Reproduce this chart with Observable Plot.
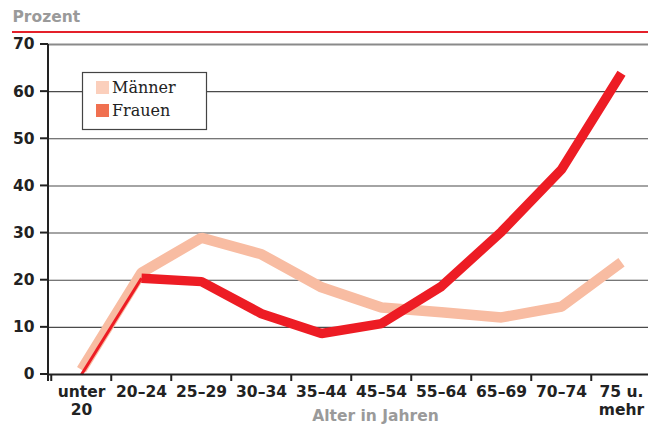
<!DOCTYPE html>
<html>
<head>
<meta charset="utf-8">
<script src="https://cdn.jsdelivr.net/npm/d3@7"></script>
<script src="https://cdn.jsdelivr.net/npm/@observablehq/plot@0.6"></script>
<style>
  html, body { margin: 0; padding: 0; background: #fff; }
  #chart { width: 648px; height: 426px; overflow: hidden; }
</style>
</head>
<body>
<div id="chart"></div>
<script>
const categories = ["unter\n20", "20–24", "25–29", "30–34", "35–44", "45–54", "55–64", "65–69", "70–74", "75 u.\nmehr"];
const maenner = [1, 21.6, 29, 25.5, 18.5, 14.2, 13.2, 12.1, 14.4, 23.8];
const frauen  = [0, 20.4, 19.7, 12.9, 8.7, 10.8, 18.7, 30.3, 43.5, 63.9];
const yTicks = [0, 10, 20, 30, 40, 50, 60, 70];
const seriesNames = ["Männer", "Frauen"];

const mData = categories.map((c, i) => ({cat: c, v: maenner[i]}));
const fData = categories.map((c, i) => ({cat: c, v: frauen[i]}));
const fFirst = fData.slice(0, 2);
const fRest = fData.slice(1);

const font = "'DejaVu Sans', sans-serif";
const step = 605 / categories.length;

const plot = Plot.plot({
  width: 648,
  height: 426,
  marginLeft: 48,
  marginRight: 0,
  marginTop: 44,
  marginBottom: 52,
  style: {fontFamily: font, background: "#fff", overflow: "visible"},
  x: {type: "point", domain: categories, range: [48, 653], padding: 0.5, axis: null},
  y: {domain: [0, 70], range: [374, 44], axis: null},
  marks: [
    Plot.ruleY(yTicks.filter(d => d > 0 && d < 70), {y: d => d, stroke: "#4a4a4a", strokeWidth: 1.1}),
    Plot.ruleY([70], {stroke: "#8a8a8a", strokeWidth: 2}),
    Plot.line(mData, {x: "cat", y: "v", stroke: "#f8bca2", strokeWidth: 10.5, strokeLinejoin: "miter", strokeLinecap: "butt"}),
    Plot.line(fFirst, {x: "cat", y: "v", stroke: "#ed1c24", strokeWidth: 3, strokeLinecap: "butt"}),
    Plot.line(fRest, {x: "cat", y: "v", stroke: "#ed1c24", strokeWidth: 9.5, strokeLinejoin: "miter", strokeLinecap: "butt"}),
    // axes
    Plot.ruleY([0], {stroke: "#222", strokeWidth: 2}),
    Plot.ruleX(categories, {x: d => d, y1: 0, y2: 0, dx: -step / 2, insetBottom: -7, stroke: "#222", strokeWidth: 2}),
    Plot.text(yTicks.map(String), {y: d => +d, text: d => d, frameAnchor: "left", textAnchor: "end", dx: -14, dy: 0, fontSize: 15.5, fontWeight: "bold", fill: "#222"}),
    Plot.text(categories, {x: d => d, text: d => d, frameAnchor: "bottom", textAnchor: "middle", lineAnchor: "top", dy: 9, fontSize: 15.5, fontWeight: "bold", fill: "#222", lineHeight: 1.2}),
    Plot.text(["Alter in Jahren"], {frameAnchor: "bottom", dx: 27, dy: 35, lineAnchor: "top", text: d => d, fontSize: 15.5, fontWeight: "bold", fill: "#9a9a9a"}),
    Plot.text(["Prozent"], {frameAnchor: "top-left", dx: -36, dy: -34, lineAnchor: "top", textAnchor: "start", text: d => d, fontSize: 15.5, fontWeight: "bold", fill: "#9a9a9a"})
  ]
});

document.getElementById("chart").appendChild(plot);

const svg = d3.select(plot);
const ys = plot.scale("y");
// left axis line and tick marks
svg.append("line").attr("x1", 48).attr("x2", 48).attr("y1", 44).attr("y2", 381)
  .attr("stroke", "#222").attr("stroke-width", 2);
svg.append("g").selectAll("line").data(yTicks).join("line")
  .attr("x1", 40).attr("x2", 48).attr("y1", d => ys.apply(d)).attr("y2", d => ys.apply(d))
  .attr("stroke", "#222").attr("stroke-width", 2);
// red header line
svg.append("line").attr("x1", 12).attr("x2", 648).attr("y1", 32).attr("y2", 32)
  .attr("stroke", "#e4202a").attr("stroke-width", 2);

// legend
const lg = svg.append("g");
lg.append("rect").attr("x", 82.5).attr("y", 72.5).attr("width", 124).attr("height", 57)
  .attr("fill", "#fff").attr("stroke", "#444").attr("stroke-width", 1.2);
const swatch = ["#fbcfbc", "#f07050"];
seriesNames.forEach((name, i) => {
  lg.append("rect").attr("x", 96).attr("y", 81 + i * 23).attr("width", 13).attr("height", 13).attr("fill", swatch[i]);
  lg.append("text").attr("x", 112).attr("y", 93 + i * 23).text(name)
    .attr("text-anchor", "start")
    .attr("font-family", "'DejaVu Serif', 'Liberation Serif', serif").attr("font-size", 16).attr("fill", "#222");
});
</script>
</body>
</html>
